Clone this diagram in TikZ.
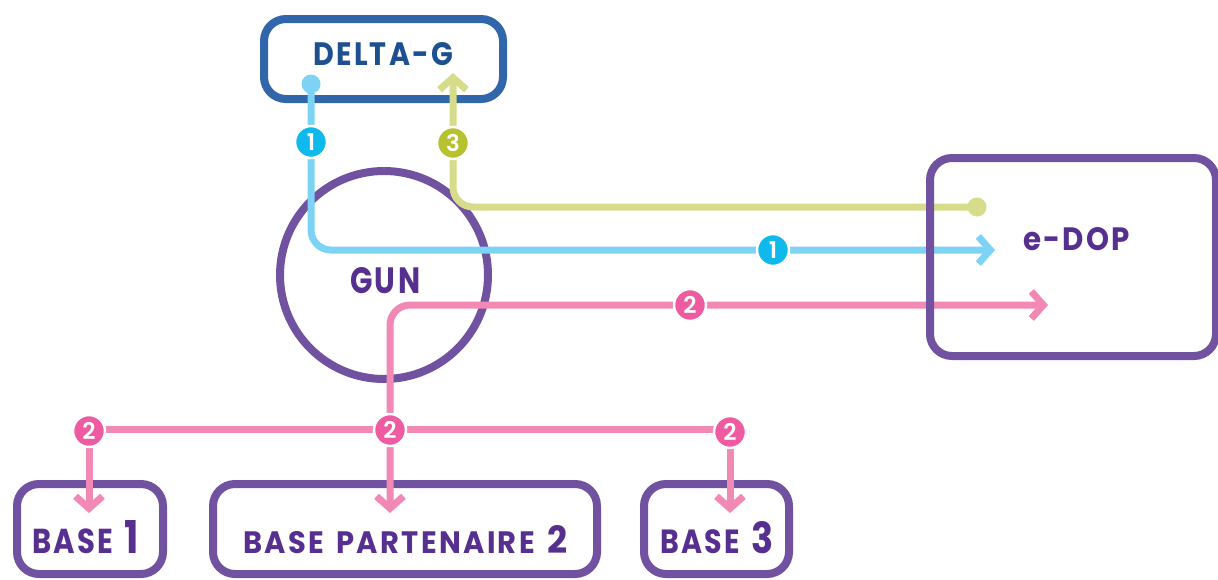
\documentclass[tikz,border=0pt]{standalone}
\usepackage{fontspec}
\setmainfont{Poppins}[BoldFont=Poppins SemiBold]
\newfontfamily\lblfont{Poppins Bold}[LetterSpace=8]
\usetikzlibrary{arrows.meta}
\definecolor{boxpurple}{HTML}{7152A0}
\definecolor{txtpurple}{HTML}{57308F}
\definecolor{dgblue}{HTML}{3166AB}
\definecolor{dgtxt}{HTML}{1D4F91}
\definecolor{lblue}{HTML}{7DD3F4}
\definecolor{bblue}{HTML}{10B9EC}
\definecolor{lgreen}{HTML}{D6DC8A}
\definecolor{bgreen}{HTML}{B6C230}
\definecolor{lpink}{HTML}{F288B4}
\definecolor{bpink}{HTML}{EE5BA0}
\newcommand{\fitT}[3]{\resizebox{#1pt}{#2pt}{#3}}
\begin{document}
\begin{tikzpicture}[x=1pt,y=-1pt,
  pbox/.style={draw=boxpurple,line width=8pt,rounded corners=22pt,inner sep=0pt},
  lbl/.style={inner sep=0pt,anchor=base west,font=\lblfont},
  conn/.style={line width=7pt,rounded corners=20pt},
  tipb/.style={-{Straight Barb[length=12pt,width=27pt]}},
  tipbb/.style={{Straight Barb[length=12pt,width=27pt]}-{Straight Barb[length=12pt,width=27pt]}},
  badge/.style={circle,draw=white,line width=2.5pt,minimum size=32pt,inner sep=0pt,text=white,font=\fontsize{23}{23}\selectfont\bfseries},
  enddot/.style={circle,inner sep=0pt,minimum size=19pt}]
\useasboundingbox (0,0) rectangle (1218,579);

% boxes
\node[draw=dgblue,line width=8pt,rounded corners=22pt,minimum width=239pt,minimum height=80pt,inner sep=0pt] (dg) at (383.5,59) {};
\node[circle,draw=boxpurple,line width=8pt,minimum size=208pt,inner sep=0pt] (gun) at (384,275) {};
\node[pbox,minimum width=146pt,minimum height=90pt] (b1) at (90,529) {};
\node[pbox,minimum width=384pt,minimum height=90pt] (b2) at (405,529) {};
\node[pbox,minimum width=145pt,minimum height=90pt] (b3) at (716.5,529) {};

% texts
\node[lbl,text=dgtxt] (dgT) at (313,65) {\fitT{140}{23}{\fontsize{33}{33}\selectfont DELTA-G}};
\node[lbl,text=txtpurple] (gunT) at (350,293) {\fitT{70}{26}{\fontsize{37}{37}\selectfont GUN}};
\node[lbl,text=txtpurple] (edT) at (1023,250) {\fitT{107}{23}{\fontsize{33}{33}\selectfont e-DOP}};
\node[lbl,text=txtpurple] (b1T) at (32,553) {\fitT{107}{33}{\fontsize{36}{36}\selectfont BASE\hspace{14pt}\fontsize{47}{47}\selectfont 1}};
\node[lbl,text=txtpurple] (b2T) at (243,553) {\fitT{324}{28}{\fontsize{33}{33}\selectfont BASE\hspace{14pt}PARTENAIRE\hspace{14pt}\fontsize{40}{40}\selectfont 2}};
\node[lbl,text=txtpurple] (b3T) at (660,553) {\fitT{113}{32}{\fontsize{36}{36}\selectfont BASE\hspace{14pt}\fontsize{46}{46}\selectfont 3}};

% connector points
\coordinate (blueS) at (311,84);
\coordinate (blueE) at (995,250);
\coordinate (greenS) at (977,207);
\coordinate (greenE) at (453,73);
\coordinate (pinkE) at (1048,305);
\coordinate (pinkB2) at (390,513);
\coordinate (pinkL) at (89,429);
\coordinate (pinkR) at (730,429);
\coordinate (pinkB1) at (89,513);
\coordinate (pinkB3) at (730,513);
\coordinate (pinkM) at (390,429);

% connectors
\draw[conn,lblue,tipb] (blueS) |- (blueE);
\node[enddot,fill=lblue] (blueDot) at (blueS) {};
\draw[conn,lgreen,tipb] (greenS) -| (greenE);
\node[enddot,fill=lgreen] (greenDot) at (greenS) {};
\draw[conn,lpink,tipbb] (pinkB2) |- (pinkE);
\draw[conn,lpink] (pinkL) -- (pinkR);
\draw[conn,lpink,tipb] (pinkL) -- (pinkB1);
\draw[conn,lpink,tipb] (pinkR) -- (pinkB3);

% e-DOP box over the lines
\node[pbox,minimum width=286pt,minimum height=198pt] (ed) at (1073,257) {};

% badges
\node[badge,fill=bblue] (n1a) at (311,142) {1};
\node[badge,fill=bgreen] (n3) at (453,143) {3};
\node[badge,fill=bblue] (n1b) at (773,250) {1};
\node[badge,fill=bpink] (n2a) at (690,305) {2};
\node[badge,fill=bpink] (n2l) at (89,431) {2};
\node[badge,fill=bpink] (n2m) at (390,430) {2};
\node[badge,fill=bpink] (n2r) at (730,432) {2};
\end{tikzpicture}
\end{document}
